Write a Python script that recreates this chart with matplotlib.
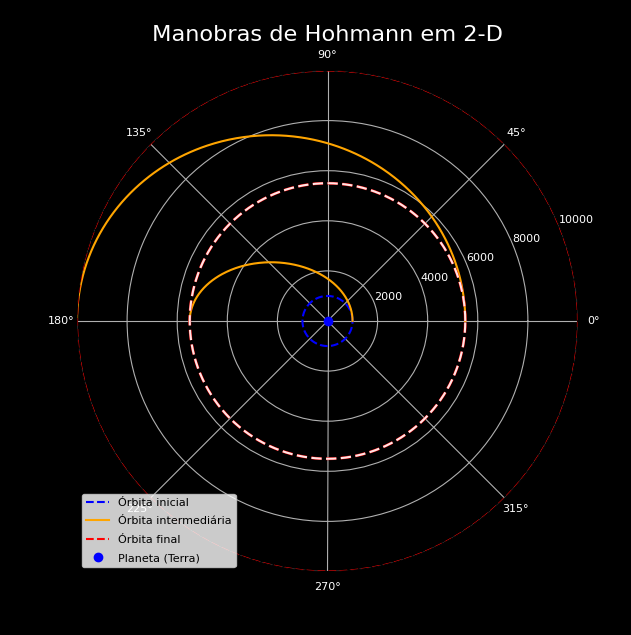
import numpy as np
import matplotlib
matplotlib.use("Agg")
import matplotlib.pyplot as plt

# Orbit radii
r_initial = 1000
r_middle = 5500
r_final = 10000
transfer_legs = [(r_initial, r_middle), (r_middle, r_final)]

fig = plt.figure(figsize=(6.31, 6.35), dpi=100, facecolor='black')
ax = fig.add_axes([77/631, 63.5/635, 501/631, 501/635], projection='polar')
ax.set_facecolor('black')

theta = np.linspace(0, 2*np.pi, 721)

# initial orbit
ax.plot(theta, np.full_like(theta, r_initial), 'b--', lw=1.5, label='Órbita inicial')

# transfer half-ellipses
for k, (rp, ra) in enumerate(transfer_legs):
    th = np.linspace(0, np.pi, 361)
    a = (rp + ra) / 2
    e = (ra - rp) / (ra + rp)
    r = a * (1 - e**2) / (1 + e*np.cos(th))
    ax.plot(th, r, color='orange', lw=1.5, label='Órbita intermediária' if k == 0 else None)

# intermediate circular orbit (red under white, same dash pattern)
ax.plot(theta, np.full_like(theta, r_middle), color='red', lw=2.0,
        dashes=(7.4/2.0, 3.2/2.0))
ax.plot(theta, np.full_like(theta, r_middle), color='white', lw=1.5,
        dashes=(7.4/1.5, 3.2/1.5), alpha=0.9)

# final orbit
ax.plot(theta, np.full_like(theta, r_final), 'r--', lw=1.5, label='Órbita final')

# planet
ax.plot(0, 0, 'bo', markersize=6, label='Planeta (Terra)')

ax.set_ylim(0, r_final)
ax.grid(True, color='#b0b0b0')
ax.tick_params(colors='white', labelsize=8)
ax.tick_params(axis='x', pad=1)
ax.spines['polar'].set_color('black')
for lab in ax.get_xticklabels() + ax.get_yticklabels():
    lab.set_color('white')

fig.text(327/631, 1 - 35/635, 'Manobras de Hohmann em 2-D', color='white',
         fontsize=16.2, ha='center', va='center')
leg = ax.legend(loc='lower left', bbox_to_anchor=(-0.001, -0.003), fontsize=8,
                labelspacing=0.75)

fig.savefig('out.png', dpi=100, facecolor='black')
